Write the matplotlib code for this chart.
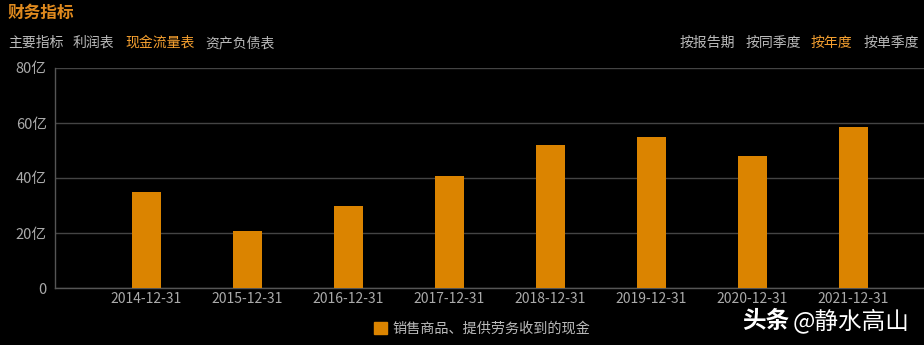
import matplotlib.pyplot as plt
from matplotlib.patches import Patch

plt.rcParams['font.family'] = ['Noto Sans CJK SC', 'DejaVu Sans']

# data (unit: 亿)
years = ['2014-12-31', '2015-12-31', '2016-12-31', '2017-12-31',
         '2018-12-31', '2019-12-31', '2020-12-31', '2021-12-31']
cash_in = [35.0, 20.7, 29.8, 40.7, 52.0, 54.9, 48.0, 58.5]
y_ticks = [0, 20, 40, 60, 80]
y_labels = ['0', '20亿', '40亿', '60亿', '80亿']
left_tabs = ['主要指标', '利润表', '现金流量表', '资产负债表']
right_tabs = ['按报告期', '按同季度', '按年度', '按单季度']

W, H = 924, 345
bar_color = '#DB8400'
gray = '#BBBBBB'
orange = '#F5A030'

fig = plt.figure(figsize=(W / 100, H / 100), dpi=100, facecolor='black')
ax = fig.add_axes([55 / W, 57 / H, (W - 55) / W, 220 / H], facecolor='black')

xs = list(range(len(years)))
ax.bar(xs, cash_in, width=0.29, color=bar_color, zorder=3)

ax.set_ylim(0, 80)
ax.set_xlim(-0.906, 7.70)
ax.set_yticks(y_ticks)
ax.set_yticklabels(y_labels)
ax.set_xticks(xs)
ax.set_xticklabels(years)
ax.tick_params(colors='#AAAAAA', labelsize=10, length=0, pad=3)
ax.tick_params(axis='y', labelsize=10.5, pad=6)
ax.grid(axis='y', color='#444444', linewidth=1, zorder=0)
for side in ['top', 'right']:
    ax.spines[side].set_visible(False)
for side in ['left', 'bottom']:
    ax.spines[side].set_color('#555555')
    ax.spines[side].set_linewidth(1)

# header
fig.text(8 / W, 1 - 13 / H, '财务指标', color='#E08A1E', fontsize=12,
         fontweight='bold', va='center', ha='left')
lx = [8, 73, 125, 205]
for i, (t, x) in enumerate(zip(left_tabs, lx)):
    fig.text(x / W, 1 - 43 / H, t, color=orange if i == 2 else gray,
             fontsize=10, va='center', ha='left')
rx = [680, 746, 811, 864]
for i, (t, x) in enumerate(zip(right_tabs, rx)):
    fig.text(x / W, 1 - 43 / H, t, color=orange if i == 2 else gray,
             fontsize=10, va='center', ha='left')

# legend
leg = fig.legend(handles=[Patch(color=bar_color, label='销售商品、提供劳务收到的现金')],
                 loc='center', bbox_to_anchor=(0.522, 1 - 329 / H), frameon=False,
                 fontsize=10.2, handlelength=0.9, handleheight=0.9, handletextpad=0.4)
for t in leg.get_texts():
    t.set_color(gray)

# watermark
fig.text(742 / W, 1 - 321 / H, '头条', color='white', fontsize=17,
         fontweight='heavy', va='center', ha='left')
fig.text(793 / W, 1 - 321 / H, '@静水高山', color='white', fontsize=17,
         va='center', ha='left')

fig.savefig('out.png', dpi=100, facecolor='black')
